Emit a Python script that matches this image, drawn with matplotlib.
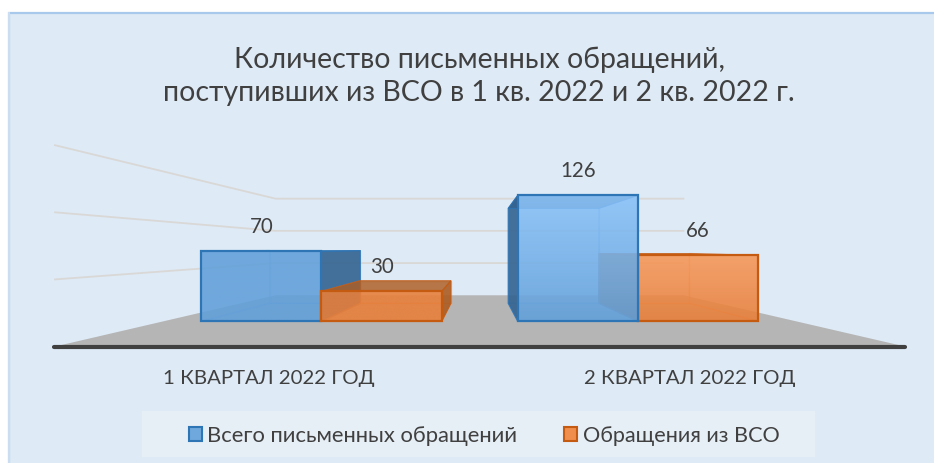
import matplotlib
matplotlib.use("Agg")
import matplotlib.pyplot as plt
from matplotlib.colors import to_rgb
from matplotlib.patches import Polygon, Rectangle
import numpy as np

plt.rcParams['font.family'] = ['Lato', 'Open Sans', 'DejaVu Sans']

# данные
categories = ["1 КВАРТАЛ 2022 ГОД", "2 КВАРТАЛ 2022 ГОД"]
series_names = ["Всего письменных обращений", "Обращения из ВСО"]
total_values = [70, 126]
vso_values = [30, 66]
grid_values = [50, 100, 150]
title = "Количество письменных обращений,\nпоступивших из ВСО в 1 кв. 2022 и 2 кв. 2022 г."

# перспектива (пиксели рисунка)
VX, VY = 479, 249
FLOOR_L, FLOOR_R, FLOOR_Y = 55, 905, 347.5
PX_PER_UNIT = 1.342
K_BACK = 0.48       # задняя стена
K_BAR_FRONT = 0.745
K_BAR_BACK = 0.561
BAR_W = 0.38


def proj(cat_x, val, k):
    # cat_x - в единицах категорий, val - значение, k - глубина
    X = FLOOR_L + cat_x * (FLOOR_R - FLOOR_L) / len(categories)
    return (VX + k * (X - VX), VY + k * (FLOOR_Y - PX_PER_UNIT * val - VY))


fig = plt.figure(figsize=(9.34, 4.64), dpi=100, facecolor="white")
ax = fig.add_axes([0, 0, 1, 1])
ax.set_xlim(0, 934)
ax.set_ylim(464, 0)
ax.axis("off")

# фон
ax.add_patch(Rectangle((9, 13.5), 960, 460, fc="#DEEAF6", ec="#A9C9EC", lw=1.6, zorder=0))
ax.add_patch(Rectangle((8, 13), 1.5, 460, fc="#CBDDF0", ec="none", zorder=0.5))

# пол
floor = [proj(0, 0, 1), proj(2, 0, 1), proj(2, 0, K_BACK), proj(0, 0, K_BACK)]
ax.add_patch(Polygon(floor, fc="#B5B5B5", ec="none", zorder=1))

# сетка
for v in grid_values:
    pts = [proj(0, v, 1), proj(0, v, K_BACK), proj(2, v, K_BACK)]
    ax.plot(*zip(*pts), color="#D9D8D6", lw=1.3, zorder=1)
ax.plot([FLOOR_L - 1, FLOOR_R], [FLOOR_Y, FLOOR_Y], color="#404040", lw=3, solid_capstyle="round", zorder=2)


def draw_bar(left, right, val, top_col, bottom_col, edge, inner, dark, z):
    f = K_BAR_FRONT
    b = K_BAR_BACK
    faces = {
        "back": [proj(left, 0, b), proj(right, 0, b), proj(right, val, b), proj(left, val, b)],
        "bottom": [proj(left, 0, f), proj(right, 0, f), proj(right, 0, b), proj(left, 0, b)],
        "left": [proj(left, 0, f), proj(left, val, f), proj(left, val, b), proj(left, 0, b)],
        "right": [proj(right, 0, f), proj(right, val, f), proj(right, val, b), proj(right, 0, b)],
        "top": [proj(left, val, f), proj(right, val, f), proj(right, val, b), proj(left, val, b)],
    }
    # какая боковая грань видна снаружи - зависит от положения относительно центра
    outer = "right" if proj(right, 0, f)[0] <= VX + 1 else "left"
    hidden = "left" if outer == "right" else "right"
    for name in ["back", "bottom", hidden]:
        ax.add_patch(Polygon(faces[name], fc=bottom_col, ec=inner, lw=1.0, alpha=0.3, zorder=z))
    ax.add_patch(Polygon(faces[outer], fc=dark, ec=edge, lw=0.8, alpha=0.85, zorder=z + 0.05))
    ax.add_patch(Polygon(faces["top"], fc=dark, ec=edge, lw=0.8, alpha=0.75, zorder=z + 0.05))
    # передняя грань с градиентом
    x0, y0 = proj(left, 0, f)
    x1, y1 = proj(right, val, f)
    c0 = np.array(to_rgb(top_col))
    c1 = np.array(to_rgb(bottom_col))
    t = np.linspace(0, 1, 64)[:, None, None]
    img = c0[None, None, :] * (1 - t) + c1[None, None, :] * t
    ax.imshow(img, extent=[x0, x1, y0, y1], aspect="auto", alpha=0.84, zorder=z + 0.1)
    ax.add_patch(Rectangle((x0, y1), x1 - x0, y0 - y1, fc="none", ec=edge, lw=1.6, zorder=z + 0.2))
    return (x0 + x1) / 2, y1


# верхний цвет передней грани по кварталам
blue_tops = ["#62A0DA", "#8CC4FA"]
orange_tops = ["#E87F3A", "#F8995A"]
BLUE = ("#62A0DA", "#2E75B6", "#5B9BD5", "#2F5F8C")
ORANGE = ("#E87F3A", "#C55A11", "#ED7D31", "#A85A20")

for i, cat in enumerate(categories):
    c = i + 0.5
    # слева от центра оранжевый столбец ближе к зрителю, справа - синий
    z_blue, z_orange = (3, 4) if i == 0 else (6, 5)
    x, y = draw_bar(c - BAR_W, c, total_values[i], blue_tops[i], *BLUE, z_blue)
    ax.text(x, y - 25.5, str(total_values[i]), ha="center", va="center", fontsize=14.8, color="#404040", zorder=10)
    x, y = draw_bar(c, c + BAR_W, vso_values[i], orange_tops[i], *ORANGE, z_orange)
    ax.text(x, y - 25.5, str(vso_values[i]), ha="center", va="center", fontsize=14.8, color="#404040", zorder=10)
    ax.text(proj(c, 0, 1)[0] + (1 if i == 0 else -3), 378.5, cat, ha="center", va="center", fontsize=14.7, color="#404040")

# заголовок
ax.text(479, 76, title, ha="center", va="center", fontsize=20.5, color="#404040", linespacing=1.34)

# легенда
ax.add_patch(Rectangle((142, 412), 673, 46, fc="#E6EEF6", ec="none", zorder=1))
ax.add_patch(Rectangle((188.5, 428), 13, 14, fc="#6FA8DC", ec="#2E75B6", lw=1.5, zorder=2))
ax.text(207, 436, series_names[0], ha="left", va="center", fontsize=15.8, color="#404040")
ax.add_patch(Rectangle((564, 428), 13, 14, fc="#F08E4E", ec="#C55A11", lw=1.5, zorder=2))
ax.text(583, 436, series_names[1], ha="left", va="center", fontsize=15.6, color="#404040")

fig.savefig("out.png", dpi=100)
